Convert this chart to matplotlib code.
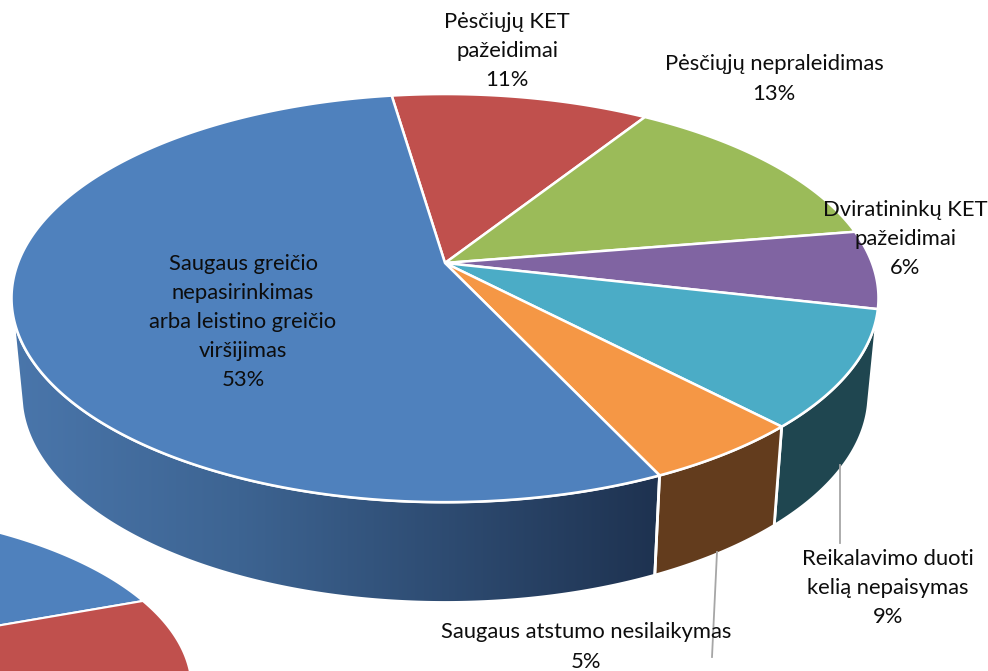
import matplotlib
matplotlib.use('Agg')
import matplotlib.pyplot as plt
import numpy as np
from matplotlib.colors import LinearSegmentedColormap
from matplotlib.patches import Polygon

plt.rcParams['font.family'] = ['Lato', 'DejaVu Sans']

# slices, clockwise from the start angle
names = ['Pėsčiųjų KET\npažeidimai', 'Pėsčiųjų nepraleidimas', 'Dviratininkų KET\npažeidimai',
         'Reikalavimo duoti\nkelią nepaisymas', 'Saugaus atstumo nesilaikymas',
         'Saugaus greičio\nnepasirinkimas\narba leistino greičio\nviršijimas']
values = [11, 13, 6, 9, 5, 53]
top_colors = ['#c0504d', '#9bbb59', '#8064a2', '#4bacc6', '#f59745', '#4f81bd']
wall_colors = [None, None, None, '#1f4650', '#633c1d', None]
label_pos = [(507, 51), (774, 79), (905, 239), (888, 588), (586, 647), (243, 322)]

start_angle = -8.4
small_start = 69.8 - 360.0 * 53 / 97  # the second pie, cut off by the picture


def project(theta, cx=445.0, cy=263.0, a=427.0, b=198.0, k=0.172):
    t = np.radians(theta)
    u, v = np.sin(t), np.cos(t)
    w = 1 + k * v
    return cx + a * u / w, cy - b * v / w


def arc(t0, t1, **kw):
    th = np.linspace(t0, t1, max(int(abs(t1 - t0) * 2), 2))
    x, y = project(th, **kw)
    return np.column_stack([x, y])


fig = plt.figure(figsize=(9.88, 6.71), dpi=100)
ax = fig.add_axes([0, 0, 1, 1])

bounds = start_angle + np.concatenate([[0], np.cumsum(values)]) * 360.0 / sum(values)
bottom = dict(cy=358.5, a=417.5, b=202.0)

# walls
blue_grad = LinearSegmentedColormap.from_list('wall', [(0, '#4a76ab'), (0.35, '#3d6492'), (1, '#1e3250')])
for i in range(len(values)):
    t0, t1 = max(bounds[i], 103.0), min(bounds[i + 1], 256.5)
    if t1 <= t0:
        continue
    pts = np.vstack([arc(t0, t1), arc(t0, t1, **bottom)[::-1]])
    if wall_colors[i] is None:
        p = Polygon(pts, closed=True, fc='none', ec='white', lw=2)
        im = ax.imshow(np.linspace(0, 1, 256)[None, :], cmap=blue_grad, aspect='auto',
                       extent=[pts[:, 0].min(), pts[:, 0].max(), 671, 0], zorder=1)
        ax.add_patch(p)
        p.set_zorder(2)
        im.set_clip_path(p)
    else:
        ax.add_patch(Polygon(pts, closed=True, fc=wall_colors[i], ec='white', lw=2, zorder=2))

# top surface
for i in range(len(values)):
    pts = np.vstack([[445.0, 263.0], arc(bounds[i], bounds[i + 1])])
    ax.add_patch(Polygon(pts, closed=True, fc=top_colors[i], ec='white', lw=1.8, joinstyle='round', zorder=3))

# second pie, bottom left
small = dict(cx=-192.0, cy=658.0, a=378.0, b=175.0)
sbounds = small_start + np.concatenate([[0], np.cumsum([53, 11])]) * 360.0 / sum(values)
for i, col in enumerate(['#4f81bd', '#c0504d']):
    pts = np.vstack([[small['cx'], small['cy']], arc(sbounds[i], sbounds[i + 1], **small)])
    ax.add_patch(Polygon(pts, closed=True, fc=col, ec='white', lw=1.5, zorder=3))

# leader lines
ax.plot([839.5, 839.5], [465, 543], color='#a6a6a6', lw=1.3, zorder=5)
ax.plot([717, 712], [552, 657], color='#a6a6a6', lw=1.3, zorder=5)

for name, val, (x, y) in zip(names, values, label_pos):
    ax.text(x, y, '%s\n%d%%' % (name, val), ha='center', va='center', fontsize=15.8,
            linespacing=1.57, color='#0d0d0d', zorder=6)

ax.set_xlim(0, 988)
ax.set_ylim(671, 0)
ax.axis('off')
fig.savefig('out.png', dpi=100)
